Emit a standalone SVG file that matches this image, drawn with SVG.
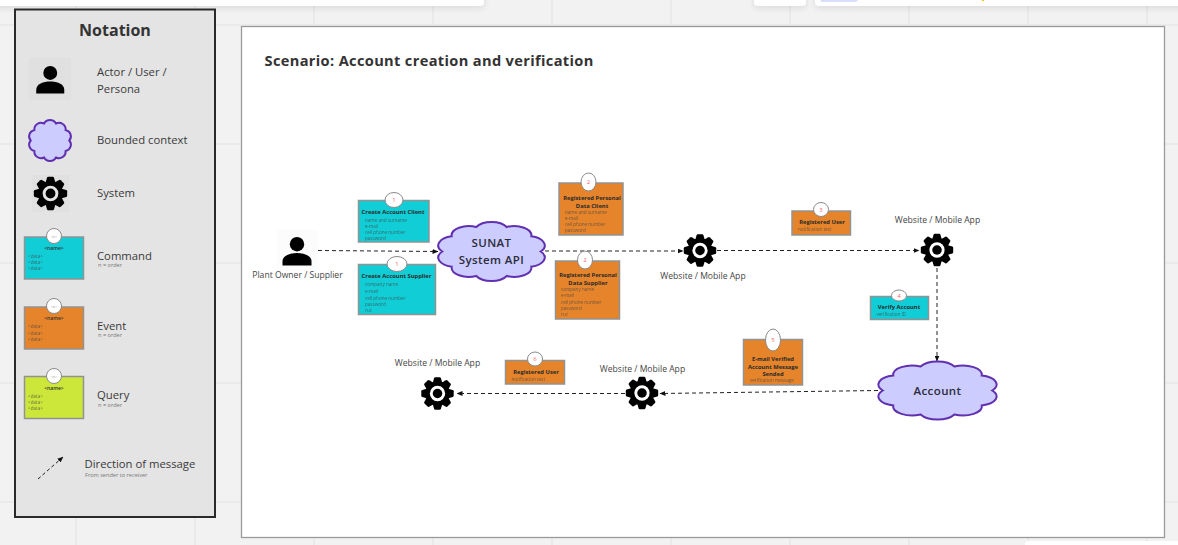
<svg xmlns="http://www.w3.org/2000/svg" xmlns:xlink="http://www.w3.org/1999/xlink" width="1178" height="545" viewBox="0 0 1178 545">
<style>
text{font-family:"Open Sans","Noto Sans","Liberation Sans",sans-serif;fill:#333}
.grid{stroke:#e8e8e8;stroke-width:1.5;fill:none}
.top{fill:#fff}
.st{stroke:#929292;stroke-width:1.5}
.cmd{fill:#11cdd6}.evt{fill:#e5842b}.qry{fill:#cde63a}
.bad{fill:#fff;stroke:#8a8a8a;stroke-width:1}
.n{font-size:6px;fill:#f0686e;text-anchor:middle}
.ln{font-size:4px;fill:#999;text-anchor:middle}
.t{font-size:5.8px;font-weight:700;text-anchor:middle;fill:#2a2a2a}
.d{font-size:4.6px;fill:#444;opacity:.7}
.lab{font-size:8.6px;text-anchor:middle;fill:#444}
.leg{font-size:11.3px;fill:#3a3a3a}
.sub{font-size:5.6px;fill:#777}
.cl{fill:#ccccff;stroke:#6030b0;stroke-width:2;vector-effect:non-scaling-stroke}
.ct{font-size:11.5px;font-weight:600;text-anchor:middle;fill:#2b2b3a;letter-spacing:.4px}
.conn{fill:none;stroke:#222;stroke-width:1;stroke-dasharray:4 3}
</style>
<defs>
<marker id="ah" markerWidth="6" markerHeight="5" refX="5.500" refY="2.500" orient="auto" markerUnits="userSpaceOnUse"><path d="M0 0L6 2.500L0 5Z" fill="#111"/></marker>
<symbol id="cloud" viewBox="0 -0.400 100 100.800" preserveAspectRatio="none" overflow="visible"><path class="cl" d="M96 50A16 16 0 0 1 87.200 75.900A16 16 0 0 1 64.200 91.800A16 16 0 0 1 35.800 91.800A16 16 0 0 1 12.800 75.900A16 16 0 0 1 4 50A16 16 0 0 1 12.800 24.100A16 16 0 0 1 35.800 8.200A16 16 0 0 1 64.200 8.200A16 16 0 0 1 87.200 24.100A16 16 0 0 1 96 50Z"/></symbol>
<symbol id="gear" viewBox="-20 -20 40 40" overflow="visible">
<g fill="#000">
<circle r="13.5"/>
<path id="tooth" d="M-5.500 -11L-3.800 -17Q-3.500 -18 -2.400 -18H2.400Q3.500 -18 3.800 -17L5.500 -11Z"/>
<use xlink:href="#tooth" href="#tooth" transform="rotate(45)"/>
<use xlink:href="#tooth" href="#tooth" transform="rotate(90)"/>
<use xlink:href="#tooth" href="#tooth" transform="rotate(135)"/>
<use xlink:href="#tooth" href="#tooth" transform="rotate(180)"/>
<use xlink:href="#tooth" href="#tooth" transform="rotate(225)"/>
<use xlink:href="#tooth" href="#tooth" transform="rotate(270)"/>
<use xlink:href="#tooth" href="#tooth" transform="rotate(315)"/>
</g>
<circle r="8.500" fill="currentColor"/>
<circle r="5.300" fill="#000"/>
</symbol>
<symbol id="person" viewBox="0 0 30 30" overflow="visible">
<circle cx="15" cy="8.200" r="7.200" fill="#000"/>
<path d="M0.500 29.500V25.500C0.500 19.500 8 17 15 17C22 17 29.500 19.500 29.500 25.500V29.500Z" fill="#000"/>
</symbol>
<filter id="sh" x="-5%" y="-50%" width="110%" height="250%"><feDropShadow dx="0" dy="2" stdDeviation="3" flood-color="#000" flood-opacity=".1"/></filter>
</defs>

<g id="background">
<rect width="1178" height="545" fill="#f2f2f2"/>
<path class="grid" d="M76 0V545M195 0V545M314 0V545M433 0V545M552 0V545M671 0V545M790 0V545M909 0V545M1028 0V545M1147 0V545M0 25H1178M0 144H1178M0 263H1178M0 383H1178M0 502H1178"/>
<rect class="top" x="-10" y="-10" width="494" height="16" rx="4" filter="url(#sh)"/>
<rect class="top" x="754" y="-10" width="52" height="16" rx="4" filter="url(#sh)"/>
<rect class="top" x="815" y="-10" width="373" height="16" rx="4" filter="url(#sh)"/>
<rect x="820" y="-6" width="38" height="8" rx="3" fill="#d9defc"/>
<rect x="982" y="0" width="2" height="1" fill="#f7c300"/>
<rect class="top" x="1025" y="541" width="163" height="14" rx="3"/>
</g>

<g id="frame">
<rect x="241.500" y="26.500" width="923" height="511" fill="#fff" stroke="#9a9a9a" stroke-width="1.300"/>
<text x="264.500" y="65.500" font-size="14.600" font-weight="700" fill="#2b2b2b" style="letter-spacing:.35px">Scenario: Account creation and verification</text>
</g>

<g id="notation">
<rect x="15" y="9.500" width="200" height="507.500" fill="#e4e4e4" stroke="#2a2a2a" stroke-width="2"/>
<text x="115" y="35.500" font-size="16" font-weight="700" text-anchor="middle" fill="#2b2b2b">Notation</text>
<g id="legend-actor">
<rect x="29" y="58" width="42" height="42" fill="#e0e0e0"/>
<use href="#person" x="35.500" y="65" width="29.500" height="29"/>
<text class="leg" x="97" y="76">Actor / User /</text>
<text class="leg" x="97" y="93">Persona</text>
</g>
<g id="legend-context">
<use href="#cloud" x="29" y="120" width="42" height="41"/>
<text class="leg" x="97" y="144">Bounded context</text>
</g>
<g id="legend-system">
<rect x="32" y="175" width="37" height="37" fill="#e0e0e0"/>
<use href="#gear" x="32" y="175" width="37" height="37" style="color:#e4e4e4"/>
<text class="leg" x="97" y="197">System</text>
</g>
<g id="legend-command">
<rect class="cmd st" x="24.500" y="237" width="59" height="42"/>
<ellipse class="bad" cx="54" cy="236" rx="7.500" ry="7.500"/><text class="ln" x="54" y="237.500">&lt;n&gt;</text>
<text x="54" y="250" font-size="5" font-weight="600" text-anchor="middle" fill="#222">&lt;name&gt;</text>
<text class="d" x="28" y="258">&lt;data&gt;</text>
<text class="d" x="28" y="264">&lt;data&gt;</text>
<text class="d" x="28" y="270">&lt;data&gt;</text>
<text class="leg" x="97" y="260">Command</text>
<text class="sub" x="98" y="267">n = order</text>
</g>
<g id="legend-event">
<rect class="evt st" x="24.500" y="307" width="59" height="42"/>
<ellipse class="bad" cx="54" cy="306" rx="7.500" ry="7.500"/><text class="ln" x="54" y="307.500">&lt;n&gt;</text>
<text x="54" y="320" font-size="5" font-weight="600" text-anchor="middle" fill="#222">&lt;name&gt;</text>
<text class="d" x="28" y="328">&lt;data&gt;</text>
<text class="d" x="28" y="334.500">&lt;data&gt;</text>
<text class="d" x="28" y="341">&lt;data&gt;</text>
<text class="leg" x="97" y="330">Event</text>
<text class="sub" x="98" y="337">n = order</text>
</g>
<g id="legend-query">
<rect class="qry st" x="24.500" y="376.500" width="59" height="42"/>
<ellipse class="bad" cx="54" cy="376" rx="7.500" ry="7.500"/><text class="ln" x="54" y="377.500">&lt;n&gt;</text>
<text x="54" y="390" font-size="5" font-weight="600" text-anchor="middle" fill="#222">&lt;name&gt;</text>
<text class="d" x="28" y="398">&lt;data&gt;</text>
<text class="d" x="28" y="404">&lt;data&gt;</text>
<text class="d" x="28" y="410">&lt;data&gt;</text>
<text class="leg" x="97" y="399">Query</text>
<text class="sub" x="98" y="407">n = order</text>
</g>
<g id="legend-message">
<path class="conn" d="M38 479L63 457" marker-end="url(#ah)" style="stroke-dasharray:3.500 2.500"/>
<text class="leg" x="84.500" y="468">Direction of message</text>
<text class="sub" x="85" y="477">From sender to receiver</text>
</g>
</g>

<g id="connectors">
<path class="conn" d="M318 250.500L438 251.500" marker-end="url(#ah)"/>
<path class="conn" d="M545 251H683" marker-end="url(#ah)"/>
<path class="conn" d="M717 250.500H919" marker-end="url(#ah)"/>
<path class="conn" d="M937 268V361" marker-end="url(#ah)"/>
<path class="conn" d="M878 390.500L660 393.500" marker-end="url(#ah)"/>
<path class="conn" d="M625 393.500H457" marker-end="url(#ah)"/>
</g>

<g id="actor-plant-owner">
<rect x="277" y="230" width="41" height="41" fill="#fcfcfc"/>
<use href="#person" x="282" y="236" width="30" height="30"/>
<text class="lab" x="297.500" y="278">Plant Owner / Supplier</text>
</g>

<g id="cmd-create-client">
<rect class="cmd st" x="358.500" y="200.500" width="70.500" height="41.500"/>
<ellipse class="bad" cx="394" cy="200" rx="9" ry="7.500"/><text class="n" x="394" y="202">1</text>
<text class="t" x="393" y="213.500">Create Account Client</text>
<text class="d" x="365" y="221.500">name and surname</text>
<text class="d" x="365" y="227.500">e-mail</text>
<text class="d" x="365" y="233.500">cell phone number</text>
<text class="d" x="365" y="239.500">password</text>
</g>
<g id="cmd-create-supplier">
<rect class="cmd st" x="358.500" y="264.500" width="77" height="50"/>
<ellipse class="bad" cx="397" cy="264" rx="10" ry="7.500"/><text class="n" x="397" y="266">1</text>
<text class="t" x="396.500" y="278">Create Account Supplier</text>
<text class="d" x="365" y="286">company name</text>
<text class="d" x="365" y="293">e-mail</text>
<text class="d" x="365" y="299.500">cell phone number</text>
<text class="d" x="365" y="305.500">password</text>
<text class="d" x="365" y="312">ruc</text>
</g>

<g id="ctx-sunat">
<use href="#cloud" x="438" y="222" width="107" height="59"/>
<text class="ct" x="491.500" y="247">SUNAT</text>
<text class="ct" x="491.500" y="264">System API</text>
</g>

<g id="evt-data-client">
<rect class="evt st" x="559" y="183" width="64" height="52"/>
<ellipse class="bad" cx="588.500" cy="182" rx="7.500" ry="9"/><text class="n" x="588.500" y="184">2</text>
<text class="t" x="592" y="199.500">Registered Personal</text>
<text class="t" x="592" y="207.500">Data Client</text>
<text class="d" x="565" y="213.500">name and surname</text>
<text class="d" x="565" y="219.500">e-mail</text>
<text class="d" x="565" y="225.500">cell phone number</text>
<text class="d" x="565" y="231.500">password</text>
</g>
<g id="evt-data-supplier">
<rect class="evt st" x="555.500" y="261" width="64" height="58"/>
<ellipse class="bad" cx="585" cy="260" rx="7.500" ry="9"/><text class="n" x="585" y="262">2</text>
<text class="t" x="588" y="277">Registered Personal</text>
<text class="t" x="588" y="285">Data Supplier</text>
<text class="d" x="561" y="291">company name</text>
<text class="d" x="561" y="297">e-mail</text>
<text class="d" x="561" y="304">cell phone number</text>
<text class="d" x="561" y="310">password</text>
<text class="d" x="561" y="316">ruc</text>
</g>

<g id="sys-web-1">
<use href="#gear" x="682" y="232.500" width="36" height="36" style="color:#fff"/>
<text class="lab" x="703" y="279">Website / Mobile App</text>
</g>

<g id="evt-registered-user-3">
<rect class="evt st" x="792" y="211" width="58.500" height="24"/>
<ellipse class="bad" cx="821" cy="209.500" rx="7.500" ry="7"/><text class="n" x="821" y="211.500">3</text>
<text class="t" x="822" y="224">Registered User</text>
<text class="d" x="798" y="231">notification text</text>
</g>

<g id="sys-web-2">
<use href="#gear" x="919" y="232" width="36" height="36" style="color:#fff"/>
<text class="lab" x="937.500" y="223">Website / Mobile App</text>
</g>

<g id="cmd-verify">
<rect class="cmd st" x="870.500" y="296.500" width="58" height="23"/>
<ellipse class="bad" cx="899" cy="295.500" rx="7.500" ry="5.500"/><text class="n" x="899" y="297.500">4</text>
<text class="t" x="899" y="308.500">Verify Account</text>
<text class="d" x="876.500" y="315.500">verification ID</text>
</g>

<g id="ctx-account">
<use href="#cloud" x="878" y="361.500" width="119" height="58"/>
<text class="ct" x="937.500" y="395">Account</text>
</g>

<g id="evt-email">
<rect class="evt st" x="743.500" y="339.500" width="59" height="45.500"/>
<ellipse class="bad" cx="773" cy="340" rx="7.500" ry="11"/><text class="n" x="773" y="342">5</text>
<text class="t" x="773" y="360.500">E-mail Verified</text>
<text class="t" x="773" y="368.500">Account Message</text>
<text class="t" x="773" y="376">Sended</text>
<text class="d" x="750" y="382">verification message</text>
</g>

<g id="sys-web-3">
<use href="#gear" x="624" y="375" width="36" height="36" style="color:#fff"/>
<text class="lab" x="642.500" y="372">Website / Mobile App</text>
</g>

<g id="evt-registered-user-6">
<rect class="evt st" x="505.500" y="360.500" width="59" height="23.500"/>
<ellipse class="bad" cx="535" cy="359" rx="7.500" ry="7"/><text class="n" x="535" y="361">6</text>
<text class="t" x="536" y="374">Registered User</text>
<text class="d" x="511.500" y="381">notification text</text>
</g>

<g id="sys-web-4">
<use href="#gear" x="419.500" y="375.500" width="36" height="36" style="color:#fff"/>
<text class="lab" x="437.500" y="366">Website / Mobile App</text>
</g>
</svg>
